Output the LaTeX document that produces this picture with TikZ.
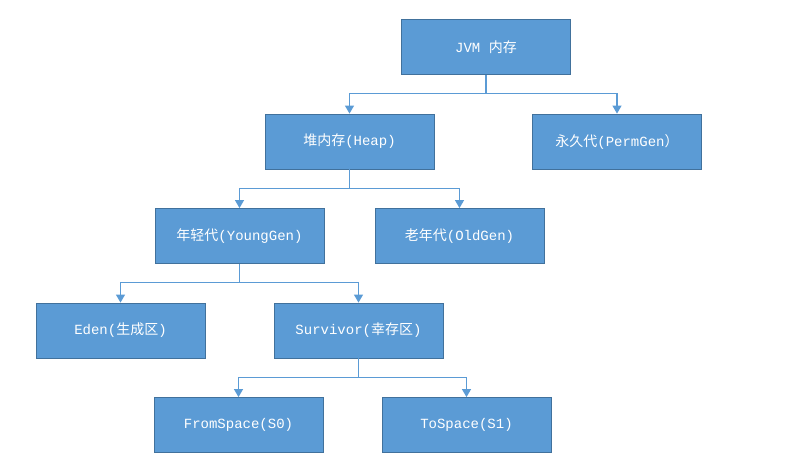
\documentclass[tikz,border=0pt]{standalone}
\usepackage{fontspec}
\setmainfont{Liberation Mono}
\newfontfamily\cjk{Noto Sans CJK SC}
\usepackage{tikz}
\usetikzlibrary{arrows.meta}
\definecolor{boxfill}{HTML}{5B9BD5}
\definecolor{boxline}{HTML}{41719C}
\newcommand{\zh}[1]{{\cjk #1}}

\begin{document}
\begin{tikzpicture}[level distance=94.5pt,
  level 1/.style = {sibling distance=268pt},
  level 2/.style = {sibling distance=220pt},
  level 3/.style = {sibling distance=238pt},
  level 4/.style = {sibling distance=228pt},
  every node/.style = {shape=rectangle,
    draw=boxline, fill=boxfill, text=white, line width=0.8pt,
    minimum width=169pt, minimum height=55pt, align=center,
    font=\fontsize{14pt}{16pt}\selectfont},
  edge from parent/.style = {draw=boxfill, line width=1.1pt,
    -{Triangle[length=8pt,width=9pt]}},
  edge from parent path = {(\tikzparentnode.south) -- ++(0,-19pt)
    -| (\tikzchildnode.north)}]
  \useasboundingbox (0,0) rectangle (807pt,-463pt);
  \node (jvm) at (486pt,-47pt) {JVM \zh{内存}}
    child[xshift=-2.5pt] { node (heap) {\zh{堆内存}(Heap)}
      child { node (young) {\zh{年轻代}(YoungGen)}
	child { node (eden) {Eden(\zh{生成区})} }
	child { node (survivor) {Survivor(\zh{幸存区})}
		child[xshift=-6pt] { node (from) {FromSpace(S0)} }
		child[xshift=-6pt] { node (to) {ToSpace(S1)} } } }
      child { node (old) {\zh{老年代}(OldGen)} } }
    child[xshift=-3pt] { node (perm) {\zh{永久代}(PermGen\zh{）}} };
\end{tikzpicture}
\end{document}
